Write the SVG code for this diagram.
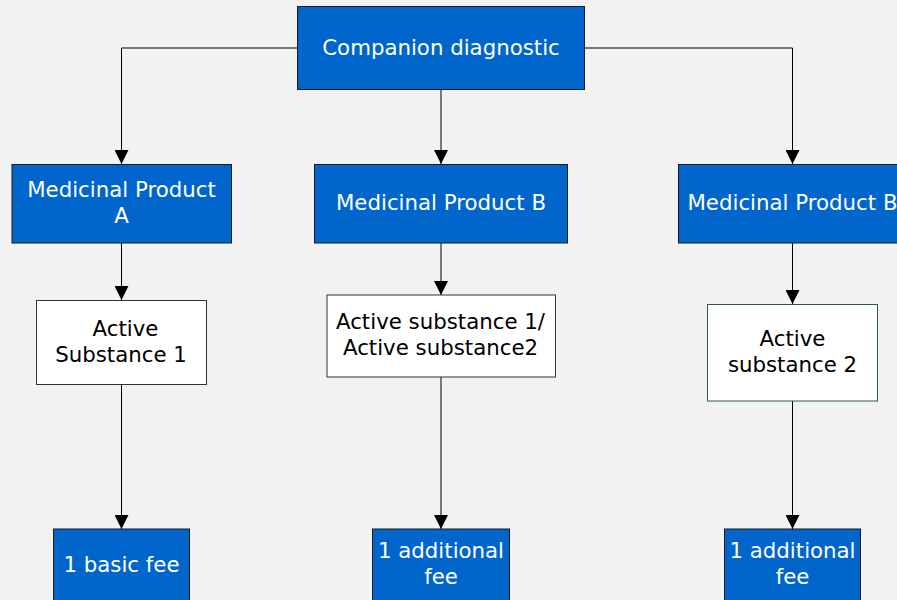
<svg xmlns="http://www.w3.org/2000/svg" width="897" height="600" viewBox="0 0 897 600">
<defs>
<marker id="arr" markerWidth="14" markerHeight="14" viewBox="0 0 14 14" refX="14" refY="7" orient="auto" markerUnits="userSpaceOnUse">
<path d="M0,0 L14,7 L0,14 Z" fill="#000"/>
</marker>
<style>
.blue{fill:#0066cc;stroke:#1a1a1a;stroke-width:1}
.white{fill:#ffffff;stroke:#333333;stroke-width:1}
.green{fill:#ffffff;stroke:#2f5a3a;stroke-width:1}
.tw{font-family:"DejaVu Sans",Verdana,sans-serif;font-size:21.3px;fill:#ffffff;text-anchor:middle}
.tb{font-family:"DejaVu Sans",Verdana,sans-serif;font-size:21.3px;fill:#000000;text-anchor:middle}
.c{fill:none;stroke:#000;stroke-width:1;marker-end:url(#arr)}
</style>
</defs>
<rect width="897" height="600" fill="#f2f2f2"/>
<g id="connectors">
<path class="c" d="M297,48 H121.5 V164"/>
<path class="c" d="M585,48 H792.5 V164"/>
<path class="c" d="M441,90 V164"/>
<path class="c" d="M121.5,243 V300"/>
<path class="c" d="M441,243 V295"/>
<path class="c" d="M792.5,243 V304"/>
<path class="c" d="M121.5,384 V529"/>
<path class="c" d="M441,377 V529"/>
<path class="c" d="M792.5,401 V529"/>
</g>
<g id="companion">
<rect class="blue" x="297.5" y="6.5" width="287" height="83"/>
<text class="tw" x="441" y="55">Companion diagnostic</text>
</g>
<g id="productA">
<rect class="blue" x="12" y="164.5" width="219.5" height="78.5"/>
<text class="tw" x="121.5" y="197">Medicinal Product</text>
<text class="tw" x="121.5" y="223">A</text>
</g>
<g id="productB">
<rect class="blue" x="314.5" y="164.5" width="253" height="78.5"/>
<text class="tw" x="441" y="210">Medicinal Product B</text>
</g>
<g id="productB2">
<rect class="blue" x="678.5" y="164.5" width="230" height="78.5"/>
<text class="tw" x="792.5" y="210">Medicinal Product B</text>
</g>
<g id="substance1">
<rect class="white" x="36.5" y="300.5" width="170" height="84"/>
<text class="tb" x="125.5" y="336">Active</text>
<text class="tb" x="121" y="362">Substance 1</text>
</g>
<g id="substance12">
<rect class="white" x="327" y="295" width="228.5" height="82"/>
<text class="tb" x="440.5" y="329">Active substance 1/</text>
<text class="tb" x="440.5" y="355">Active substance2</text>
</g>
<g id="substance2">
<rect class="green" x="707.5" y="304.5" width="170" height="96.5"/>
<text class="tb" x="792.5" y="346">Active</text>
<text class="tb" x="792.5" y="372">substance 2</text>
</g>
<g id="basicfee">
<rect class="blue" x="53.5" y="529" width="136" height="80"/>
<text class="tw" x="121.5" y="572">1 basic fee</text>
</g>
<g id="addfee1">
<rect class="blue" x="372.5" y="529" width="137" height="80"/>
<text class="tw" x="441" y="558">1 additional</text>
<text class="tw" x="441" y="584">fee</text>
</g>
<g id="addfee2">
<rect class="blue" x="724.5" y="529" width="136" height="80"/>
<text class="tw" x="792.5" y="558">1 additional</text>
<text class="tw" x="792.5" y="584">fee</text>
</g>
</svg>
